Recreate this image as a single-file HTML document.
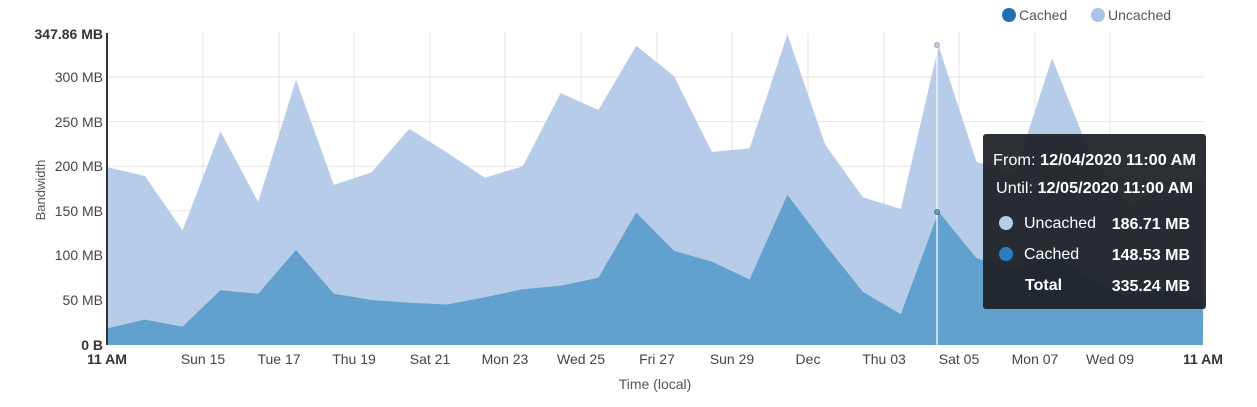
<!DOCTYPE html>
<html><head><meta charset="utf-8">
<style>
body{margin:0;width:1257px;height:407px;background:#fff;overflow:hidden;font-family:"Liberation Sans",sans-serif;}
svg{display:block}
</style></head><body>
<svg id="s" width="1257" height="407" xmlns="http://www.w3.org/2000/svg">
<g id="grid" stroke="#e3e3e3" stroke-width="1"></g>
<polygon id="unc" fill="#b7cce9"/>
<polygon id="cac" fill="#62a0cd"/>
<line x1="107" y1="33" x2="107" y2="345" stroke="#333" stroke-width="2"/>
<line x1="937" y1="45" x2="937" y2="345" stroke="#fff" stroke-width="1.2"/>
<circle cx="937" cy="45" r="2.5" fill="#b7cce9" stroke="#888" stroke-width="0.6"/>
<circle cx="937" cy="212" r="2.5" fill="#62a0cd" stroke="#555" stroke-width="0.8"/>
<g font-size="14" fill="#444" text-anchor="end">
<text x="103" y="39" font-weight="bold" fill="#333">347.86 MB</text>
<text x="103" y="82">300 MB</text>
<text x="103" y="127">250 MB</text>
<text x="103" y="171">200 MB</text>
<text x="103" y="216">150 MB</text>
<text x="103" y="260">100 MB</text>
<text x="103" y="305">50 MB</text>
<text x="103" y="350" font-weight="bold" fill="#333">0 B</text>
</g>
<text transform="translate(45,190) rotate(-90)" font-size="13" fill="#555" text-anchor="middle">Bandwidth</text>
<g font-size="14" fill="#444" text-anchor="middle">
<text x="107" y="364" font-weight="bold" fill="#333">11 AM</text>
<text x="203" y="364">Sun 15</text>
<text x="279" y="364">Tue 17</text>
<text x="354" y="364">Thu 19</text>
<text x="430" y="364">Sat 21</text>
<text x="505" y="364">Mon 23</text>
<text x="581" y="364">Wed 25</text>
<text x="657" y="364">Fri 27</text>
<text x="732" y="364">Sun 29</text>
<text x="808" y="364">Dec</text>
<text x="884" y="364">Thu 03</text>
<text x="959" y="364">Sat 05</text>
<text x="1035" y="364">Mon 07</text>
<text x="1110" y="364">Wed 09</text>
<text x="1203" y="364" font-weight="bold" fill="#333">11 AM</text>
</g>
<text x="655" y="389" font-size="14" fill="#555" text-anchor="middle">Time (local)</text>
<circle cx="1009" cy="15" r="7" fill="#1f6fb4"/>
<text x="1019" y="20" font-size="14" fill="#555">Cached</text>
<circle cx="1098" cy="15" r="7" fill="#a9c3e6"/>
<text x="1108" y="20" font-size="14" fill="#555">Uncached</text>
<g>
<rect x="983" y="134" width="223" height="175" rx="3" fill="#1c1f24" opacity="0.93"/>
<g font-size="16" fill="#fff">
<text x="993" y="165" textLength="203" lengthAdjust="spacingAndGlyphs">From: <tspan font-weight="bold">12/04/2020 11:00 AM</tspan></text>
<text x="996" y="193" textLength="197" lengthAdjust="spacingAndGlyphs">Until: <tspan font-weight="bold">12/05/2020 11:00 AM</tspan></text>
<circle cx="1006" cy="223" r="7" fill="#b7cce9"/>
<text x="1024" y="228">Uncached</text>
<text x="1190" y="229" font-weight="bold" text-anchor="end">186.71 MB</text>
<circle cx="1006" cy="254" r="7" fill="#2b7cc0"/>
<text x="1024" y="259">Cached</text>
<text x="1190" y="260" font-weight="bold" text-anchor="end">148.53 MB</text>
<text x="1025" y="290" font-weight="bold">Total</text>
<text x="1190" y="291" font-weight="bold" text-anchor="end">335.24 MB</text>
</g></g>
</svg>
<script>
var T=[199,189,128,239,160,297,179,193,242,215,187,200,282,263,335,301,216,220,348,224,165,152,335,205,190,321,215,157,175,186];
var C=[18,28,20,61,57,106,57,50,47,45,53,62,66,75,148,105,93,73,168,112,59,34,149,97,84,100,75,53,60,50];
function X(i){return 107+37.8*i}function Y(v){return 344.6-v*0.892}
function pts(a){var p=[];for(var i=0;i<a.length;i++)p.push(X(i).toFixed(1)+','+Y(a[i]).toFixed(1));p.push('1203,345');p.push('107,345');return p.join(' ');}
document.getElementById('unc').setAttribute('points',pts(T));
document.getElementById('cac').setAttribute('points',pts(C));
var g=document.getElementById('grid'),h='';
[300,250,200,150,100,50].forEach(function(v){h+='<line x1="107" x2="1203" y1="'+Y(v)+'" y2="'+Y(v)+'"/>';});
[203,279,354,430,505,581,657,732,808,884,959,1035,1110].forEach(function(x){h+='<line x1="'+x+'" x2="'+x+'" y1="33" y2="345"/>';});
g.innerHTML=h;
</script>
</body></html>
